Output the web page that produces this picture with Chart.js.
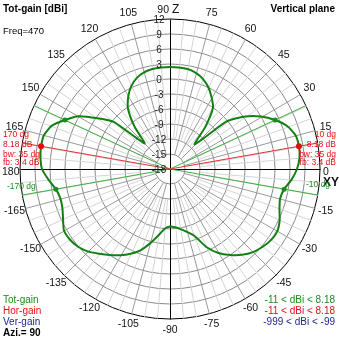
<!DOCTYPE html>
<html>
<head>
<meta charset="utf-8">
<script src="https://cdn.jsdelivr.net/npm/chart.js@4.4.0/dist/chart.umd.min.js"></script>
<style>
  html, body { margin: 0; padding: 0; background: #fff; }
  #wrap { width: 339px; height: 339px; }
</style>
</head>
<body>
<div id="wrap"><canvas id="chart-polar" width="339" height="339"></canvas></div>
<script>
// sample azimuths (deg), clockwise starting from Z (top)
const angles = [90, 85, 80, 75, 70, 65, 60, 55, 50, 45, 40, 35, 30, 25, 20, 15, 10, 5, 0,
  -5, -10, -15, -20, -25, -30, -35, -40, -45, -50, -55, -60, -65, -70, -75, -80, -85, -90,
  -95, -100, -105, -110, -115, -120, -125, -130, -135, -140, -145, -150, -155, -160, -165, -170, -175,
  180, 175, 170, 165, 160, 155, 150, 145, 140, 135, 130, 125, 120, 115, 110, 105, 100, 95];

// total gain in dBi at each azimuth
const totGain = [2.4, 2.4, 2.3, 1.9, 1.2, 0.1, -1.4, -3.0, -7.0, -11.0, -3.2, 0.3, 3.0, 5.18, 7.0, 8.0, 8.18, 8.0, 7.4,
  6.4, 5.18, 4.8, 5.3, 6.2, 6.8, 6.7, 6.2, 5.5, 4.4, 3.0, 1.4, -0.8, -3.8, -5.0, -5.8, -6.3, -6.5,
  -6.0, -4.5, -2.6, -0.7, 0.7, 1.9, 3.0, 4.1, 5.3, 6.1, 6.5, 6.5, 5.6, 4.9, 4.7, 5.18, 6.4,
  7.6, 8.0, 8.18, 8.1, 7.2, 5.18, 3.1, -0.3, -3.4, -10.8, -7.0, -3.4, -1.3, 0.3, 1.4, 2.0, 2.3, 2.4];

const ringTicks = [12, 9, 6, 3, 0, -3, -6, -9, -12, -15, -18];
const angleTicks = [75, 60, 45, 30, 15, -15, -30, -45, -60, -75, -90, -105, -120, -135, -150, -165,
  165, 150, 135, 120, 105];
const peakAngles = [10, 170];
const halfPowerAngles = [25, -10, 155, -170];

const FONT = '"Liberation Sans", Arial, sans-serif';
const GREEN = '#1d8a1d';
const RED = '#e01010';
const NAVY = '#1c1c8c';

const overlay = {
  id: 'overlay',
  beforeDatasetsDraw(chart) {
    const scale = chart.scales.r;
    const c = chart.ctx;
    c.save();
    // radial grid lines: light every 5 dg, darker every 15 dg, black on the axes
    angles.forEach((a, i) => {
      let from = -12, color = '#d4d4d4';
      if (a % 90 === 0) { from = -18; color = '#000'; }
      else if (a % 15 === 0) { from = -15; color = '#9a9a9a'; }
      const p0 = scale.getPointPositionForValue(i, from);
      const p1 = scale.getPointPositionForValue(i, 12);
      c.strokeStyle = color;
      c.lineWidth = 1;
      c.beginPath();
      c.moveTo(Math.round(p0.x) + 0.5, Math.round(p0.y) + 0.5);
      c.lineTo(Math.round(p1.x) + 0.5, Math.round(p1.y) + 0.5);
      c.stroke();
    });
    // beam markers
    const marker = (a, color) => {
      const p = scale.getPointPositionForValue(angles.indexOf(a), 12);
      c.strokeStyle = color;
      c.beginPath();
      c.moveTo(scale.xCenter, scale.yCenter);
      c.lineTo(p.x, p.y);
      c.stroke();
    };
    halfPowerAngles.forEach(a => marker(a, '#3cae3c'));
    peakAngles.forEach(a => marker(a, '#e03030'));
    c.restore();
  },
  afterDraw(chart) {
    const scale = chart.scales.r;
    const c = chart.ctx;
    c.save();
    c.textBaseline = 'middle';

    // gain ticks along the Z axis
    c.font = '10px ' + FONT;
    c.fillStyle = '#222';
    c.textAlign = 'center';
    ringTicks.forEach(v => {
      const y = scale.yCenter - scale.getDistanceFromCenterForValue(v);
      c.fillText(String(v), scale.xCenter - 11, y + 1);
    });

    // angle labels
    c.font = '10.5px ' + FONT;
    c.fillStyle = '#111';
    angleTicks.forEach(a => {
      const p = scale.getPointPosition(angles.indexOf(a), scale.drawingArea + 11);
      c.textAlign = 'center';
      c.fillText(String(a), p.x, p.y);
    });
    const top = scale.getPointPosition(angles.indexOf(90), scale.drawingArea + 9);
    c.textAlign = 'right';
    c.fillText('90', top.x - 1, top.y);
    c.textAlign = 'left';
    c.font = '12px ' + FONT;
    c.fillText('Z', top.x + 2, top.y);
    c.font = '10.5px ' + FONT;
    c.fillText('0', scale.xCenter + scale.drawingArea + 3, scale.yCenter + 3);
    c.fillText('180', 2, scale.yCenter + 3);
    c.font = 'bold 12px ' + FONT;
    c.fillText('XY', scale.xCenter + scale.drawingArea + 3, scale.yCenter + 14);

    // beam annotations
    c.font = '8.5px ' + FONT;
    c.fillStyle = RED;
    const right = ['10 dg', '8.18 dB', 'bw: 35 dg', 'fb: 3.4 dB'];
    const left = ['170 dg', '8.18 dB', 'bw: 35 dg', 'fb: 3.4 dB'];
    const rowsY = [135, 145, 155, 163];
    c.textAlign = 'right';
    right.forEach((t, i) => c.fillText(t, 336, rowsY[i]));
    c.textAlign = 'left';
    left.forEach((t, i) => c.fillText(t, 3, rowsY[i]));
    c.fillStyle = GREEN;
    c.fillText('-10 dg', 306, 185);
    c.fillText('-170 dg', 7, 187);

    // header
    c.fillStyle = '#000';
    c.font = 'bold 10px ' + FONT;
    c.textAlign = 'left';
    c.fillText('Tot-gain [dBi]', 3, 9);
    c.textAlign = 'right';
    c.fillText('Vertical plane', 335, 9);
    c.font = '9.5px ' + FONT;
    c.textAlign = 'left';
    c.fillText('Freq=470', 3, 31);

    // footer legend
    c.font = '10px ' + FONT;
    c.fillStyle = GREEN; c.fillText('Tot-gain', 3, 300);
    c.fillStyle = RED; c.fillText('Hor-gain', 3, 311);
    c.fillStyle = NAVY; c.fillText('Ver-gain', 3, 322);
    c.fillStyle = '#000';
    c.font = 'bold 10px ' + FONT;
    c.fillText('Azi.= 90', 3, 333);
    c.font = '10px ' + FONT;
    c.textAlign = 'right';
    c.fillStyle = GREEN; c.fillText('-11 < dBi < 8.18', 335, 300);
    c.fillStyle = RED; c.fillText('-11 < dBi < 8.18', 335, 311);
    c.fillStyle = NAVY; c.fillText('-999 < dBi < -99', 335, 322);
    c.restore();
  }
};

const isPeak = i => peakAngles.includes(angles[i]);
const isHalf = i => halfPowerAngles.includes(angles[i]);

new Chart(document.getElementById('chart-polar'), {
  type: 'radar',
  data: {
    labels: angles.map(String),
    datasets: [{
      label: 'Tot-gain',
      data: totGain,
      borderColor: '#138013',
      borderWidth: 2,
      fill: false,
      tension: 0.2,
      pointRadius: c => isPeak(c.dataIndex) ? 3 : isHalf(c.dataIndex) ? 2.5 : 0,
      pointBackgroundColor: c => isPeak(c.dataIndex) ? RED : GREEN,
      pointBorderWidth: 0
    }]
  },
  options: {
    responsive: false,
    animation: false,
    layout: { padding: { left: 20, right: 19, top: 19, bottom: 20 } },
    plugins: { legend: { display: false }, tooltip: { enabled: false } },
    scales: {
      r: {
        min: -18,
        max: 12,
        startAngle: 0,
        ticks: { display: false, stepSize: 3 },
        grid: {
          circular: true,
          color: c => c.tick && c.tick.value === 12 ? '#000' : '#8a8a8a',
          lineWidth: 1
        },
        angleLines: { display: false },
        pointLabels: { display: false }
      }
    }
  },
  plugins: [overlay]
});
</script>
</body>
</html>
